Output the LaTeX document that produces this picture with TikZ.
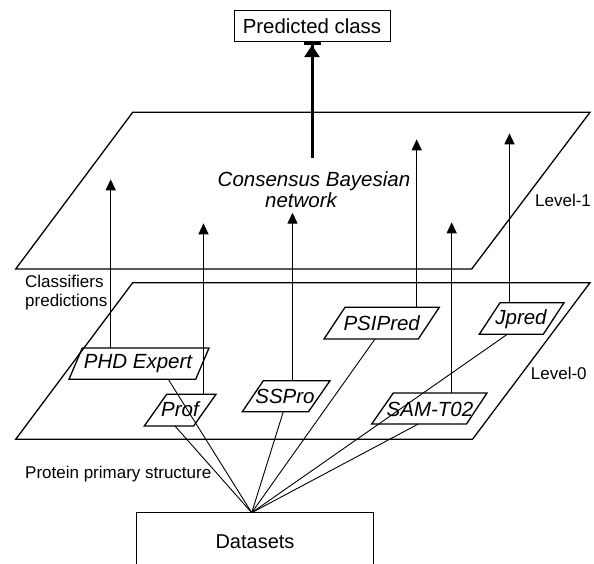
\documentclass[tikz,border=0pt]{standalone}
\usepackage{fontspec}
\setmainfont{Liberation Sans}
\usetikzlibrary{arrows.meta}
\begin{document}
\begin{tikzpicture}[x=1pt,y=-1pt,
  plane/.style={line width=1.3pt, line join=miter},
  pbox/.style={line width=1.3pt, line join=miter},
  lbl/.style={anchor=base west, inner sep=0pt, font=\fontsize{17}{20}\selectfont},
  btxt/.style={anchor=base, inner sep=0pt, font=\fontsize{20.5}{24}\selectfont\itshape},
  arr/.style={line width=1.3pt, -{Triangle[length=11pt,width=10pt]}},
  fanline/.style={line width=0.9pt},
  rbox/.style={draw, line width=1pt, inner sep=0pt}]
\clip (0,0) rectangle (594,564);
% planes
\draw[plane] (132.7,112.3) -- (590,112.3) -- (471.7,269) -- (15.7,269) -- cycle;
\draw[plane] (132.7,282.7) -- (590,282.7) -- (472.5,439.3) -- (15.7,439.3) -- cycle;
% top and bottom boxes
\node[rbox, minimum width=156pt, minimum height=31pt, font=\fontsize{20.4}{24}\selectfont] (pc) at (312,26.2) {Predicted class};
\node[rbox, minimum width=236.6pt, minimum height=58pt, font=\fontsize{20}{24}\selectfont] (ds) at (255,541.7) {Datasets};
% consensus network text
\node[btxt] (cbn) at (314,186.5) {Consensus Bayesian};
\node[btxt] (cbnb) at (301,207.5) {network};
% labels
\node[lbl] (lv1) at (535,206.7) {Level-1};
\node[lbl] (lv0) at (530.7,379.3) {Level-0};
\node[lbl] (cla) at (25,287.3) {Classifiers};
\node[lbl] (clb) at (25,306) {predictions};
\node[lbl] (pps) at (25,478) {Protein primary structure};
% classifier boxes
\draw[pbox] (82.3,348) -- (209,348) -- (195.7,379.3) -- (69,379.3) -- cycle;
\node[btxt] (phd) at (138,368.3) {PHD Expert};
\draw[pbox] (166.7,394.3) -- (216,394.3) -- (193.6,426) -- (144.3,426) -- cycle;
\node[btxt] (prof) at (180,416.7) {Prof};
\draw[pbox] (263.3,380.7) -- (330,380.7) -- (308.5,411.7) -- (242.3,411.7) -- cycle;
\node[btxt] (sspro) at (285,403.3) {SSPro};
\draw[pbox] (345,307.3) -- (439.3,307.3) -- (418.3,339) -- (324,339) -- cycle;
\node[btxt] (psi) at (381.7,330) {PSIPred};
\draw[pbox] (393.3,393) -- (487,393) -- (466.5,424) -- (371.7,424) -- cycle;
\node[btxt] (sam) at (430,416.7) {SAM-T02};
\draw[pbox] (500,302.7) -- (564,302.7) -- (543.3,334.3) -- (479.3,334.3) -- cycle;
\node[btxt] (jp) at (521,324.3) {Jpred};
% connection points
\coordinate (fan) at (251.7,512.7);
\coordinate (t1) at (110.7,348);   \coordinate (a1) at (110.7,179.3);
\coordinate (t2) at (203.5,394.3); \coordinate (a2) at (203.5,223.3);
\coordinate (t3) at (292.5,380.7); \coordinate (a3) at (292.5,212.7);
\coordinate (t4) at (416.7,307.3); \coordinate (a4) at (416.7,139.3);
\coordinate (t5) at (451.7,393);   \coordinate (a5) at (451.7,222.3);
\coordinate (t6) at (509.5,302.7); \coordinate (a6) at (509.5,133.3);
\coordinate (b1) at (168.3,379.3);
\coordinate (b2) at (175,426);
\coordinate (b3) at (283.3,411.7);
\coordinate (b4) at (375,339);
\coordinate (b5) at (418.3,424);
\coordinate (b6) at (507.3,334.3);
\coordinate (cbt) at (312,158.3);
% arrows up
\foreach \i in {1,...,6} {\draw[arr] (t\i) -- (a\i);}
% fan lines
\foreach \i in {1,...,6} {\draw[fanline] (fan) -- (b\i);}
% thick arrow
\draw[line width=3pt, -{Triangle[length=12pt,width=15pt] Bar[width=17pt]}] (cbt) -- (pc.south);
\end{tikzpicture}
\end{document}
